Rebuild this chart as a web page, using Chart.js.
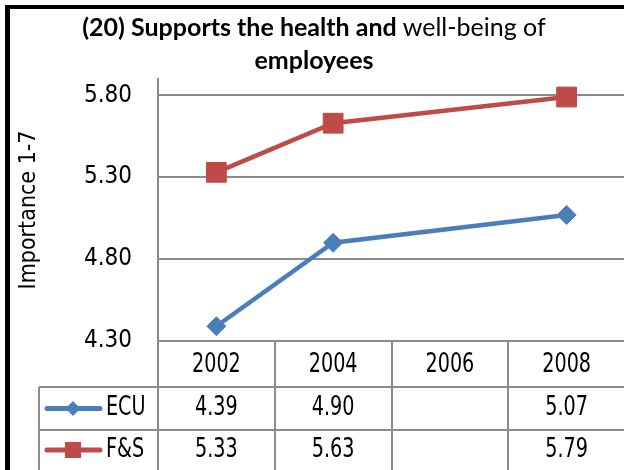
<!DOCTYPE html>
<html><head><meta charset="utf-8">
<script src="https://cdn.jsdelivr.net/npm/chart.js@4.4.1/dist/chart.umd.min.js"></script>
<style>
html,body{margin:0;padding:0;background:#fff;overflow:hidden;width:624px;height:470px;}
#wrap{position:relative;width:624px;height:470px;overflow:hidden;background:#fff;}
canvas{position:absolute;left:0;top:0;}
#frame{position:absolute;left:5px;top:5px;width:700px;height:600px;border-top:4px solid #000;border-left:5px solid #000;box-sizing:border-box;}
#title{position:absolute;left:0;width:628px;top:10px;text-align:center;font-family:Lato,"Noto Sans",sans-serif;font-weight:bold;font-size:25px;line-height:33px;color:#000;}
#title .reg{font-weight:normal;}
</style></head>
<body><div id="wrap"><canvas id="c" width="640" height="470"></canvas><div id="frame"></div>
<div id="title">(20) Supports the health and <span class="reg">well-being of</span><br>employees</div></div>
<script>
const categories = ['2002', '2004', '2006', '2008'];
const seriesNames = ['ECU', 'F&S'];
const ecuValues = [4.39, 4.90, null, 5.07];
const fsValues = [5.33, 5.63, null, 5.79];
const yTickValues = [4.30, 4.80, 5.30, 5.80];
const yMin = 4.30, yMax = 5.90;
const yTitle = 'Importance 1-7';

const BLUE = '#4a7ebb', RED = '#be4b48', GRID = '#8c8c8c';
const NARROW = '"DejaVu Sans Condensed","Liberation Sans Narrow",sans-serif';

const seriesStyles = [
  {color: BLUE, style: 'diamond'},
  {color: RED, style: 'square'}
];
const seriesValues = [ecuValues, fsValues];

function legendMarker(ctx, style, cx, cy, color) {
  ctx.save();
  ctx.strokeStyle = color; ctx.lineWidth = 5; ctx.lineCap = 'round';
  ctx.beginPath(); ctx.moveTo(cx - 26, cy); ctx.lineTo(cx + 27, cy); ctx.stroke();
  ctx.fillStyle = color;
  ctx.beginPath();
  if (style === 'diamond') {
    const r = 7.5;
    ctx.moveTo(cx, cy - r); ctx.lineTo(cx + r, cy); ctx.lineTo(cx, cy + r); ctx.lineTo(cx - r, cy); ctx.closePath();
  } else {
    ctx.rect(cx - 8, cy - 8, 16, 16);
  }
  ctx.fill();
  ctx.restore();
}

function narrowText(ctx, text, x, y, align) {
  ctx.save();
  ctx.translate(x, y);
  ctx.scale(0.82, 1);
  ctx.textAlign = align;
  ctx.fillText(text, 0, 0);
  ctx.restore();
}

const tablePlugin = {
  id: 'dataTable',
  afterDraw(chart) {
    const ctx = chart.ctx, x = chart.scales.x, area = chart.chartArea;
    const half = (x.getPixelForValue(1) - x.getPixelForValue(0)) / 2;
    const top = area.bottom;
    const headerBottom = top + 46;
    const row1Bottom = headerBottom + 43;
    const bottom = chart.height;
    const legendLeft = 39;
    ctx.save();
    ctx.strokeStyle = GRID; ctx.lineWidth = 2;
    ctx.beginPath();
    for (let i = 0; i <= categories.length; i++) {
      const bx = Math.round(x.getPixelForValue(i) - half);
      ctx.moveTo(bx, top); ctx.lineTo(bx, bottom);
    }
    ctx.moveTo(legendLeft, headerBottom); ctx.lineTo(legendLeft, bottom);
    ctx.moveTo(legendLeft, headerBottom); ctx.lineTo(chart.width, headerBottom);
    ctx.moveTo(legendLeft, row1Bottom); ctx.lineTo(chart.width, row1Bottom);
    ctx.stroke();

    ctx.fillStyle = '#000';
    ctx.font = '26px ' + NARROW;
    ctx.textBaseline = 'middle';
    const headerMid = (top + headerBottom) / 2 + 1;
    categories.forEach((c, i) => narrowText(ctx, c, x.getPixelForValue(i), headerMid, 'center'));

    const rowMids = [(headerBottom + row1Bottom) / 2, row1Bottom + 20];
    seriesNames.forEach((name, r) => {
      const cy = rowMids[r];
      legendMarker(ctx, seriesStyles[r].style, 73, cy, seriesStyles[r].color);
      ctx.fillStyle = '#000';
      narrowText(ctx, name, 106, cy, 'left');
      seriesValues[r].forEach((v, i) => {
        if (v !== null) narrowText(ctx, v.toFixed(2), x.getPixelForValue(i), cy, 'center');
      });
    });
    ctx.restore();
  }
};

new Chart(document.getElementById('c'), {
  type: 'line',
  data: {
    labels: categories,
    datasets: [
      {label: seriesNames[0], data: ecuValues, borderColor: BLUE, backgroundColor: BLUE, borderWidth: 4.5,
       pointStyle: 'rectRot', pointRadius: 9.5, pointBorderWidth: 1, pointBackgroundColor: BLUE, pointBorderColor: BLUE,
       spanGaps: true, tension: 0, clip: false},
      {label: seriesNames[1], data: fsValues, borderColor: RED, backgroundColor: RED, borderWidth: 4.5,
       pointStyle: 'rect', pointRadius: 14, pointBorderWidth: 1, pointBackgroundColor: RED, pointBorderColor: RED,
       spanGaps: true, tension: 0, clip: false}
    ]
  },
  options: {
    responsive: false,
    animation: false,
    devicePixelRatio: 1,
    layout: {padding: {left: 8, right: 10, top: 79, bottom: 129}},
    plugins: {legend: {display: false}, title: {display: false}, tooltip: {enabled: false}},
    scales: {
      x: {type: 'category', offset: true, display: false},
      y: {
        min: yMin, max: yMax,
        afterBuildTicks: s => { s.ticks = yTickValues.map(v => ({value: v})); },
        afterFit: s => { s.width = 150; },
        grid: {color: GRID, lineWidth: 2, drawTicks: false},
        border: {display: true, color: GRID, width: 2},
        ticks: {padding: 26, color: '#000', font: {family: NARROW, size: 24}, callback: v => Number(v).toFixed(2)},
        title: {display: true, text: yTitle, color: '#000', font: {family: NARROW, size: 23}, padding: {top: 7, bottom: 0}}
      }
    }
  },
  plugins: [tablePlugin]
});
</script>
</body></html>
